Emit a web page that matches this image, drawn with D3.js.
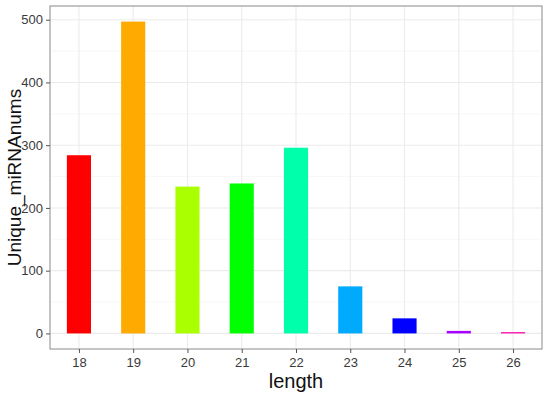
<!DOCTYPE html>
<html>
<head>
<meta charset="utf-8">
<script src="https://cdn.jsdelivr.net/npm/d3@7"></script>
<style>
  body { margin: 0; background: #fff; }
  text { font-family: "Liberation Sans", Arial, sans-serif; }
</style>
</head>
<body>
<div id="chart"></div>
<script>
// read-off values, length vs unique miRNA count
const lengths = ["18", "19", "20", "21", "22", "23", "24", "25", "26"];
const counts = [284, 497, 234, 239, 296, 75, 24, 4, 2];
const barColors = ["#FF0000", "#FFAA00", "#AAFF00", "#00FF00", "#00FFAA",
                   "#00AAFF", "#0000FF", "#AA00FF", "#FF00AA"];
const yTicks = [0, 100, 200, 300, 400, 500];
const yMinor = [50, 150, 250, 350, 450];

const W = 550, H = 395;
const margin = {top: 6, right: 8, bottom: 46, left: 50};
const w = W - margin.left - margin.right;
const h = H - margin.top - margin.bottom;

const svg = d3.select("#chart")
              .append("svg")
              .attr("width", W)
              .attr("height", H);

const g = svg.append("g")
             .attr("transform", `translate(${margin.left},${margin.top})`);

// discrete scale with ggplot style 0.6 expansion on both sides
const step = w / (lengths.length + 1.2);
const x = d3.scalePoint()
            .domain(lengths)
            .range([0.6 * step, w - 0.6 * step]);

const maxV = d3.max(counts);
const y = d3.scaleLinear()
            .domain([-0.05 * maxV, maxV * 1.05])
            .range([h, 0]);

// grid
g.selectAll(".minor")
 .data(yMinor)
 .enter()
 .append("line")
  .attr("x1", 0).attr("x2", w)
  .attr("y1", d => y(d)).attr("y2", d => y(d))
  .attr("stroke", "#F2F2F2")
  .attr("stroke-width", 0.6);

g.selectAll(".major")
 .data(yTicks)
 .enter()
 .append("line")
  .attr("x1", 0).attr("x2", w)
  .attr("y1", d => y(d)).attr("y2", d => y(d))
  .attr("stroke", "#EBEBEB")
  .attr("stroke-width", 1.1);

g.selectAll(".vgrid")
 .data(lengths)
 .enter()
 .append("line")
  .attr("x1", d => x(d)).attr("x2", d => x(d))
  .attr("y1", 0).attr("y2", h)
  .attr("stroke", "#EBEBEB")
  .attr("stroke-width", 1.1);

// bars
const bw = step * 0.5;
g.selectAll(".bar")
 .data(counts)
 .enter()
 .append("rect")
  .attr("x", (d, i) => x(lengths[i]) - bw / 2)
  .attr("y", d => y(d))
  .attr("width", bw)
  .attr("height", d => y(0) - y(d))
  .attr("fill", (d, i) => barColors[i]);

// panel border
g.append("rect")
 .attr("x", 0).attr("y", 0)
 .attr("width", w).attr("height", h)
 .attr("fill", "none")
 .attr("stroke", "#8a8a8a")
 .attr("stroke-width", 1);

// axes
const xAxis = g.append("g")
               .attr("transform", `translate(0,${h})`)
               .call(d3.axisBottom(x).tickSize(4).tickPadding(5));
const yAxis = g.append("g")
               .call(d3.axisLeft(y).tickValues(yTicks).tickSize(4).tickPadding(3));

[xAxis, yAxis].forEach(a => {
  a.attr("font-size", 13).attr("font-family", null);
  a.select(".domain").remove();
  a.selectAll(".tick line").attr("stroke", "#555");
  a.selectAll(".tick text")
   .attr("fill", "#3a3a3a")
   .style("font-size", "13px");
});

// axis titles
svg.append("text")
   .attr("x", margin.left + w / 2)
   .attr("y", 388)
   .attr("text-anchor", "middle")
   .attr("fill", "#111")
   .style("font-size", "20px")
   .text("length");

svg.append("text")
   .attr("transform", `translate(21,${margin.top + h / 2}) rotate(-90)`)
   .attr("text-anchor", "middle")
   .attr("fill", "#111")
   .style("font-size", "19px")
   .text("Unique_miRNAnums");
</script>
</body>
</html>
